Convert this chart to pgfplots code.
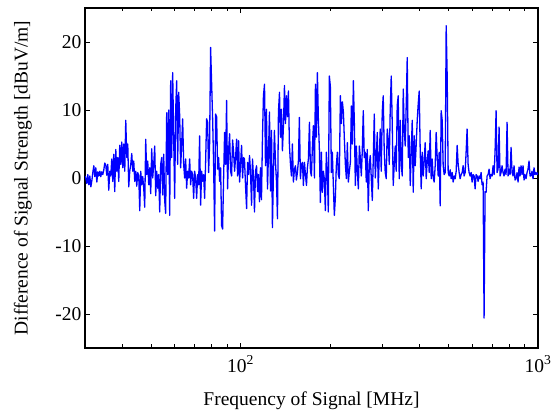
\documentclass[border=0pt]{standalone}
\usepackage{fontspec}
\setmainfont{Liberation Serif}
\usepackage{pgfplots}
\usepackage{pgfplotstable}
\pgfplotsset{compat=1.18}
\pgfplotstableread{
x y
30.00 0.3
30.19 0.0
30.43 -0.8
30.66 0.5
30.90 -1.0
31.14 0.3
31.39 -1.3
31.63 -0.4
31.87 0.8
32.12 1.8
32.37 0.2
32.62 1.5
32.88 -0.6
33.13 0.9
33.39 0.3
33.65 1.0
33.90 0.2
34.16 0.9
34.43 0.5
34.70 1.2
34.96 2.2
35.24 1.9
35.51 0.4
35.78 2.0
36.06 -1.8
36.34 1.0
36.63 0.3
36.91 2.8
37.20 -0.5
37.48 3.5
37.77 -2.0
38.07 4.2
38.36 1.0
38.66 3.0
38.96 -0.5
39.26 4.8
39.57 2.0
39.88 5.3
40.19 1.5
40.50 5.0
40.81 1.0
41.13 8.5
41.45 3.0
41.77 5.0
42.09 -1.3
42.42 1.0
42.75 2.0
43.08 3.6
43.42 1.0
43.75 2.5
44.09 -0.5
44.44 1.0
44.78 -1.2
45.13 0.8
45.48 0.3
45.83 -4.8
46.18 1.0
46.54 -1.0
46.90 0.2
47.27 -1.5
47.63 -4.3
48.00 5.7
48.37 0.5
48.75 2.5
49.13 -1.0
49.51 1.5
49.89 -2.3
50.28 4.3
50.67 0.0
51.06 2.0
51.46 4.7
51.86 -2.6
52.26 1.0
52.67 -1.5
53.07 0.5
53.49 -5.0
53.90 2.0
54.32 3.0
54.74 -2.5
55.17 3.5
55.59 -3.3
56.02 -5.2
56.46 9.6
56.90 0.5
57.34 10.0
57.79 -5.5
58.23 14.3
58.69 3.0
59.14 15.5
59.60 6.0
60.06 -3.0
60.53 10.0
61.00 14.3
61.47 2.0
61.95 12.6
62.43 9.2
62.91 1.5
63.40 5.0
63.89 8.7
64.39 2.0
64.89 0.0
65.39 2.8
65.90 -1.5
66.41 1.0
66.92 0.0
67.45 2.8
67.97 -1.0
68.50 1.0
69.02 0.5
69.56 -3.0
70.10 1.0
70.65 0.0
71.20 -3.0
71.75 0.5
72.30 -1.0
72.86 6.2
73.43 -4.0
74.00 1.0
74.58 -0.5
75.16 0.5
75.74 -3.0
76.32 2.3
76.92 8.7
77.51 8.2
78.12 0.8
78.72 5.0
79.33 19.2
79.95 14.0
80.57 8.7
81.19 2.0
81.82 -7.8
82.46 9.4
83.10 9.0
83.75 1.3
84.39 3.0
85.05 -0.5
85.70 1.5
86.37 -7.0
87.04 -7.5
87.72 0.0
88.39 6.7
89.08 2.0
89.77 11.4
90.46 -1.6
91.17 4.0
91.88 6.5
92.59 1.0
93.31 0.3
94.03 5.6
94.76 3.8
95.50 1.0
96.24 3.0
96.99 5.7
97.74 0.3
98.50 5.5
99.26 -0.6
100.0 2.0
100.8 4.8
101.6 0.0
102.4 3.0
103.1 2.8
103.9 -1.0
104.8 -4.5
105.6 2.3
106.4 0.5
107.2 3.3
108.0 1.0
108.9 -4.0
109.7 2.8
110.6 0.0
111.4 -5.0
112.3 1.0
113.2 1.8
114.1 -2.0
114.9 0.5
115.8 -3.5
116.7 1.5
117.6 -3.2
118.5 6.0
119.4 12.1
120.4 13.8
121.3 1.8
122.2 10.1
123.2 -1.6
124.1 3.3
125.1 9.7
126.1 -1.9
127.1 7.0
128.0 -7.3
129.0 0.8
130.0 7.0
131.1 2.2
132.1 -0.6
133.1 -6.0
134.1 9.7
135.2 12.6
136.2 6.0
137.3 10.1
138.3 4.0
139.4 7.7
140.5 13.6
141.6 8.0
142.7 12.1
143.8 9.0
144.9 12.8
146.0 4.8
147.2 2.0
148.3 0.3
149.4 5.0
150.6 -0.6
151.8 1.3
153.0 1.8
154.1 -0.3
155.3 0.8
156.5 2.5
157.7 8.9
159.0 -0.1
160.2 2.0
161.5 2.3
162.7 -1.1
164.0 2.3
165.3 0.5
166.6 -1.1
167.8 1.5
169.1 2.8
170.5 8.2
171.8 1.0
173.1 0.3
174.5 4.8
175.8 7.7
177.2 0.0
178.6 13.8
179.9 6.0
181.3 15.5
182.7 8.5
184.2 4.0
185.5 -3.6
187.0 3.8
188.4 -2.1
189.9 1.0
191.3 -0.1
192.8 -4.8
194.3 3.8
195.8 1.0
197.3 -5.0
198.9 15.0
200.4 13.5
202.0 0.8
203.5 3.8
205.1 -1.0
206.7 -5.5
208.3 -3.0
209.9 1.8
211.6 3.8
213.2 0.5
214.8 -0.1
216.6 12.1
218.3 8.0
220.0 11.2
221.7 9.7
223.4 5.7
225.1 2.0
226.9 -0.1
228.6 5.2
230.4 -0.6
232.2 1.0
234.0 2.3
235.8 10.6
237.7 5.0
239.5 14.3
241.4 7.8
243.2 -1.1
245.1 4.7
247.0 1.0
248.9 -1.6
250.9 4.7
252.7 3.0
254.7 0.3
256.6 4.0
258.6 9.9
260.6 3.0
262.7 3.8
264.7 -0.6
266.7 4.2
268.8 -4.8
270.9 2.0
273.0 3.3
275.1 0.0
277.3 -3.3
279.4 2.8
281.6 9.4
283.8 0.0
286.0 3.0
288.2 6.7
290.4 -1.6
292.7 3.3
294.9 7.2
297.2 1.0
299.5 9.7
301.8 12.1
304.2 3.8
306.5 0.8
308.9 -0.1
311.3 7.2
313.7 5.7
316.2 2.0
318.6 10.1
321.1 15.0
323.6 8.0
326.1 -1.1
328.6 2.0
331.2 4.7
333.7 1.0
336.3 10.6
338.9 12.1
341.6 -0.1
344.3 8.5
346.9 2.0
349.7 0.3
352.4 13.1
355.1 7.0
357.9 4.7
360.7 11.0
363.4 17.7
366.3 3.0
369.1 6.2
372.0 -1.1
374.9 4.0
377.8 8.5
380.7 -2.1
383.7 6.2
386.6 1.8
389.6 5.0
392.7 8.5
395.7 10.9
398.8 12.8
401.8 4.0
404.9 -1.6
408.1 3.8
411.2 0.3
414.4 2.5
417.6 5.2
420.9 -0.1
424.1 2.3
427.4 4.0
430.8 0.8
434.1 7.0
437.5 -0.1
440.9 2.8
444.3 0.0
447.7 -0.6
451.2 1.8
454.7 6.7
458.3 3.0
461.8 0.3
465.4 3.8
469.0 -4.1
472.6 9.9
476.3 8.5
480.0 1.8
483.7 0.5
487.5 0.8
491.3 22.4
495.1 15.0
498.9 0.8
502.8 0.3
506.7 1.2
510.6 -0.1
514.6 0.8
518.6 -0.6
522.6 0.3
526.7 -0.1
530.8 1.0
534.9 4.8
539.0 2.0
543.2 0.8
547.3 -0.1
551.6 0.5
555.9 0.8
560.2 1.8
564.5 0.3
568.9 0.8
573.3 3.8
577.7 7.2
582.2 2.0
586.7 0.8
591.3 0.3
595.9 0.8
600.5 -0.6
605.1 0.5
609.8 0.3
614.6 -1.6
619.4 0.5
624.2 0.3
629.0 -0.5
633.9 0.3
638.8 -0.1
643.8 0.8
648.8 -1.0
653.8 -0.6
658.8 -20.6
664.0 -2.0
669.1 -2.1
674.3 0.3
679.6 0.5
684.8 1.3
690.2 -0.1
695.5 0.5
700.9 0.3
706.4 1.8
711.9 0.5
717.4 4.0
723.0 9.9
728.6 0.8
734.2 1.3
739.9 7.5
745.6 0.3
751.4 0.8
757.2 1.8
763.1 0.8
769.0 0.3
775.0 1.3
781.0 0.5
787.1 8.2
793.2 0.3
799.3 1.3
805.6 0.5
811.8 4.5
818.1 0.8
824.5 0.3
830.8 1.8
837.3 -0.3
843.8 -0.1
850.4 0.8
856.9 -0.6
863.6 1.6
870.2 0.3
877.0 1.8
883.8 0.5
890.7 1.8
897.6 -0.3
904.5 0.5
911.6 -0.1
918.6 0.8
925.8 1.3
932.9 2.5
940.2 0.3
947.5 0.3
954.8 1.0
962.2 -0.1
969.7 1.5
977.3 0.5
984.9 0.8
992.4 0.5
1000 0.8
}\sigdiff
\begin{document}
\begin{tikzpicture}
\useasboundingbox (-85pt,-66pt) rectangle (470pt,348pt);
\begin{axis}[
  at={(0pt,0pt)}, anchor=south west,
  scale only axis, width=453pt, height=340pt,
  xmode=log, xmin=30, xmax=1000, ymin=-25, ymax=25,
  xtick={100,1000},
  xticklabels={10\textsuperscript{2},10\textsuperscript{3}},
  minor xtick={40,50,60,70,80,90,200,300,400,500,600,700,800,900},
  ytick={-20,-10,0,10,20},
  tick align=inside,
  major tick length=5pt, minor tick length=3.5pt,
  axis line style={line width=1.1pt},
  every tick/.style={black, line width=0.8pt},
  tick label style={font=\fontsize{19.5}{23}\selectfont},
  /pgf/number format/assume math mode=true,
  xlabel={Frequency of Signal [MHz]},
  ylabel={Difference of Signal Strength [dBuV/m]},
  every axis x label/.style={at={(axis description cs:0.5,-0.156)},anchor=center,font=\fontsize{19.5}{23}\selectfont},
  every axis y label/.style={at={(axis description cs:-0.137,0.5)},rotate=90,anchor=center,font=\fontsize{19.5}{23}\selectfont},
  xticklabel style={yshift=-4pt},
]
\addplot[blue, line width=1.3pt, line join=round] table[x=x,y=y] {\sigdiff};
\end{axis}
\end{tikzpicture}
\end{document}
